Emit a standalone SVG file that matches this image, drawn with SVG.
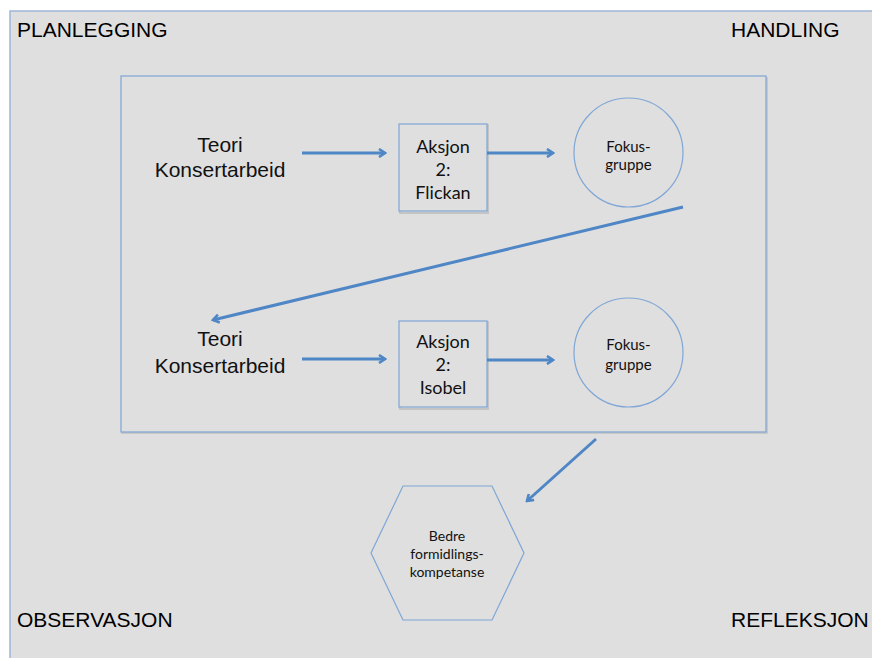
<svg xmlns="http://www.w3.org/2000/svg" width="872" height="658" viewBox="0 0 872 658">
<defs>
<marker id="arr" markerWidth="10" markerHeight="10" refX="8" refY="5" orient="auto" markerUnits="userSpaceOnUse">
<polyline points="2,1 8,5 2,9" fill="none" stroke="#4f86c6" stroke-width="2.6" stroke-linejoin="miter"/>
</marker>
</defs>
<style>
.lbl{font-family:"Liberation Sans",Arimo,Arial,sans-serif;font-size:21px;fill:#000}
.big{font-family:"Liberation Sans",Arimo,Arial,sans-serif;font-size:21px;fill:#111;text-anchor:middle}
.sm{font-family:Lato,"Open Sans",sans-serif;fill:#111;text-anchor:middle}
.shape{fill:#dfdfdf;stroke:#7fa6d6;stroke-width:1.2}
.conn{stroke:#4f86c6;stroke-width:3;fill:none}
</style>
<rect x="0" y="0" width="872" height="658" fill="#ffffff"/>
<rect id="frame" x="10" y="11" width="880" height="660" fill="#dfdfdf" stroke="#9db7d6" stroke-width="1.5"/>
<g id="corner-labels">
<text class="lbl" x="17" y="37">PLANLEGGING</text>
<text class="lbl" x="731" y="37">HANDLING</text>
<text class="lbl" x="17" y="627">OBSERVASJON</text>
<text class="lbl" x="731" y="627">REFLEKSJON</text>
</g>
<g id="inner-box">
<rect x="122" y="78" width="645" height="355" fill="none" stroke="#c8c8c8" stroke-width="2"/>
<rect x="121" y="76" width="645" height="356" class="shape"/>
</g>
<g id="teori1">
<text class="big" x="220" y="152">Teori</text>
<text class="big" x="220" y="177">Konsertarbeid</text>
</g>
<g id="aksjon1">
<rect x="400" y="125" width="88" height="88" fill="none" stroke="#c4c4c4" stroke-width="2"/>
<rect x="399" y="124" width="88" height="87" class="shape"/>
<text class="sm" x="443" y="153" font-size="18">Aksjon</text>
<text class="sm" x="443" y="176" font-size="18">2:</text>
<text class="sm" x="443" y="199" font-size="18">Flickan</text>
</g>
<g id="fokus1">
<circle cx="628.5" cy="152.5" r="54.5" class="shape"/>
<text class="sm" x="628.5" y="152" font-size="15">Fokus-</text>
<text class="sm" x="628.5" y="170" font-size="15">gruppe</text>
</g>
<g id="teori2">
<text class="big" x="220" y="346">Teori</text>
<text class="big" x="220" y="373">Konsertarbeid</text>
</g>
<g id="aksjon2">
<rect x="400" y="322" width="88" height="87" fill="none" stroke="#c4c4c4" stroke-width="2"/>
<rect x="399" y="321" width="88" height="86" class="shape"/>
<text class="sm" x="443" y="348" font-size="18">Aksjon</text>
<text class="sm" x="443" y="371" font-size="18">2:</text>
<text class="sm" x="443" y="394" font-size="18">Isobel</text>
</g>
<g id="fokus2">
<circle cx="628.5" cy="352.5" r="54.5" class="shape"/>
<text class="sm" x="628.5" y="350" font-size="15">Fokus-</text>
<text class="sm" x="628.5" y="370" font-size="15">gruppe</text>
</g>
<g id="bedre">
<polygon points="403,486 492,486 524,553 492,620 403,620 371,553" class="shape"/>
<text class="sm" x="447" y="541" font-size="14">Bedre</text>
<text class="sm" x="447" y="559" font-size="14">formidlings-</text>
<text class="sm" x="447" y="577" font-size="14">kompetanse</text>
</g>
<g id="connectors">
<line class="conn" x1="302" y1="153" x2="385" y2="153" marker-end="url(#arr)"/>
<line class="conn" x1="487" y1="153" x2="553" y2="153" marker-end="url(#arr)"/>
<line class="conn" x1="683" y1="207" x2="213" y2="320" marker-end="url(#arr)"/>
<line class="conn" x1="302" y1="359" x2="385" y2="359" marker-end="url(#arr)"/>
<line class="conn" x1="487" y1="360" x2="553" y2="360" marker-end="url(#arr)"/>
<line class="conn" x1="596" y1="439" x2="527" y2="501" marker-end="url(#arr)"/>
</g>
</svg>
